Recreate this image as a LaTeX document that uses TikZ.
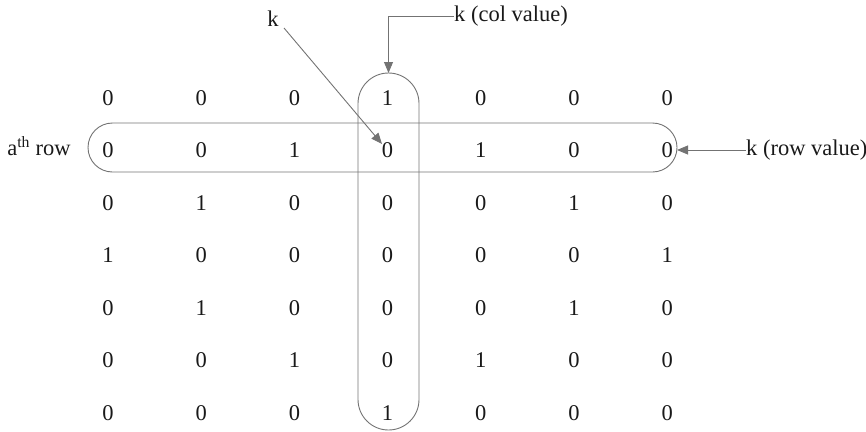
\documentclass[tikz,border=0pt]{standalone}
\usepackage{fontspec}
\setmainfont{Liberation Serif}
\usetikzlibrary{arrows.meta}
\begin{document}
\begin{tikzpicture}[x=1pt,y=-1pt,
  txt/.style={font=\rmfamily\fontsize{22.5}{26}\selectfont, inner sep=0pt, text=black!90},
  ln/.style={draw=black!55, line width=0.9pt},
  arr/.style={ln, -{Triangle[length=11pt,width=9pt]}},
]
\useasboundingbox (0,0) rectangle (866,431);
% matrix entries
\foreach \r [count=\i] in {{0,0,0,1,0,0,0},{0,0,1,0,1,0,0},{0,1,0,0,0,1,0},{1,0,0,0,0,0,1},{0,1,0,0,0,1,0},{0,0,1,0,1,0,0},{0,0,0,1,0,0,0}}{
  \foreach \v [count=\j] in \r {
    \node[txt] (m\i\j) at ({108+93.2*(\j-1)},{98+52.5*(\i-1)}) {\v};
  }
}
% capsules
\draw[ln, rounded corners=24.5pt] (88,123) rectangle (677,172);
\draw[ln, rounded corners=30.5pt] (358,73) rectangle (419,430);
\coordinate (coltop) at (388.5,73);
\coordinate (rowend) at (677,148);
\coordinate (ktip) at (382,144);
\coordinate (kstart) at (284,28);
% labels
\node[txt] (arow) at (39,146) {a\textsuperscript{th} row};
\node[txt, anchor=west] (colval) at (454,16) {k (col value)};
\node[txt, anchor=west] (rowval) at (746,150) {k (row value)};
\node[txt] (k) at (273,19) {k};
% arrows
\draw[arr] (colval.west) -| (coltop);
\draw[arr] (rowval.west) -- (rowval.west -| rowend);
\draw[arr] (kstart) -- (ktip);
\end{tikzpicture}
\end{document}
